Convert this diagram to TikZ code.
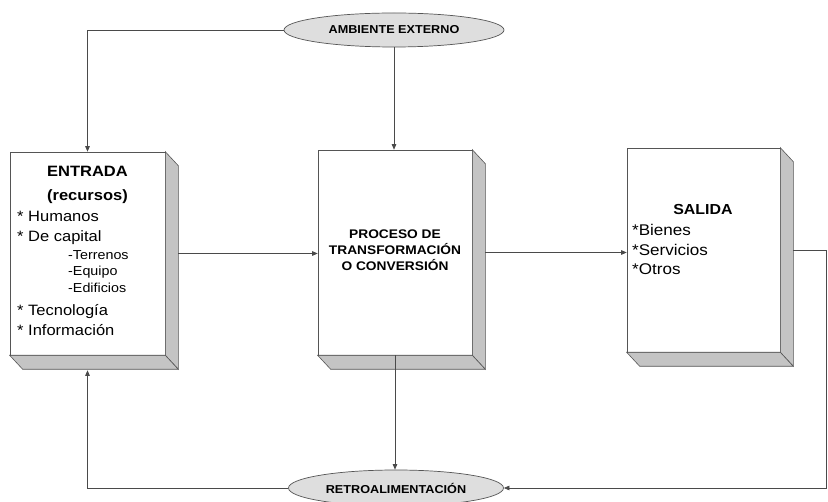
\documentclass[tikz,border=0pt]{standalone}
\usepackage{fontspec}
\setmainfont{Liberation Sans}[FakeStretch=1.1]
\usetikzlibrary{shapes.geometric,arrows.meta,calc}
\definecolor{linec}{HTML}{4A4A4A}
\definecolor{edgec}{HTML}{555555}
\definecolor{bevelc}{HTML}{C4C4C4}
\definecolor{ovalc}{HTML}{DEDEDE}
\newcommand\drawbevel[1]{%
  \filldraw[bevel] (#1.north east) -- ([shift={(13,14)}]#1.north east) -- ([shift={(13,14)}]#1.south east) -- (#1.south east) -- cycle;
  \filldraw[bevel] (#1.south west) -- ([shift={(13,14)}]#1.south west) -- ([shift={(13,14)}]#1.south east) -- (#1.south east) -- cycle;}
\begin{document}
\begin{tikzpicture}[x=1pt,y=-1pt,
  line/.style={draw=linec, line width=0.7pt},
  arr/.style={line, -{Triangle[length=5.5pt,width=4.5pt]}},
  front/.style={draw=edgec, fill=white, line width=0.6pt, inner sep=0},
  bevel/.style={fill=bevelc, draw=edgec, line width=0.6pt},
  oval/.style={ellipse, draw=edgec, fill=ovalc, line width=0.7pt, inner sep=0, font=\bfseries\fontsize{11.5}{13}\selectfont},
  txt/.style={inner sep=0, anchor=base west},
  ctxt/.style={inner sep=0, anchor=base},
  item/.style={txt, font=\fontsize{15}{18}\selectfont},
  sub/.style={txt, font=\fontsize{13}{15}\selectfont},
  title/.style={ctxt, font=\bfseries\fontsize{15}{18}\selectfont},
  ptitle/.style={ctxt, font=\bfseries\fontsize{12.5}{15}\selectfont}]
\fill[white] (0,0) rectangle (828,502);
\useasboundingbox (0,0) rectangle (828,502);

% boxes
\node[front, minimum width=155pt, minimum height=203pt] (in) at (87.5,253.5) {};
\drawbevel{in}
\node[front, minimum width=154pt, minimum height=205pt] (pr) at (395,252.5) {};
\drawbevel{pr}
\node[front, minimum width=153pt, minimum height=204pt] (sa) at (703.5,250) {};
\drawbevel{sa}

% ovals
\node[oval, minimum width=220pt, minimum height=34pt] (amb) at (394,30) {AMBIENTE EXTERNO};
\node[oval, minimum width=215pt, minimum height=36pt] (retro) at (396,488) {RETROALIMENTACIÓN};

% ENTRADA text
\node[title] (t1) at (87.5,177) {ENTRADA};
\node[title] (t2) at (87.5,201) {(recursos)};
\node[item] (i1) at (17,222) {* Humanos};
\node[item] (i2) at (17,242) {* De capital};
\node[sub] (s1) at (68,260) {-Terrenos};
\node[sub] (s2) at (68,276) {-Equipo};
\node[sub] (s3) at (68,293) {-Edificios};
\node[item] (i3) at (17,316) {* Tecnología};
\node[item] (i4) at (17,336) {* Información};

% PROCESO text
\node[ptitle] (p1) at (395,239) {PROCESO DE};
\node[ptitle] (p2) at (395,255) {TRANSFORMACIÓN};
\node[ptitle] (p3) at (395,271) {O CONVERSIÓN};

% SALIDA text
\node[ctxt, font=\bfseries\fontsize{14.5}{17}\selectfont] (st) at (703,215) {SALIDA};
\node[txt, font=\fontsize{15.5}{18}\selectfont] (o1) at (632,236) {*Bienes};
\node[txt, font=\fontsize{15.5}{18}\selectfont] (o2) at (632,256) {*Servicios};
\node[txt, font=\fontsize{15.5}{18}\selectfont] (o3) at (632,275) {*Otros};

% connectors
\coordinate (rt) at (826,250);
\coordinate (rb) at (826,488);
\draw[arr] (amb.west) -| (in.north);
\draw[arr] (amb.south) -- (amb.south |- pr.north);
\draw[arr] ([xshift=13pt]in.east) -- (in.east -| pr.west);
\draw[arr] ([xshift=13pt]pr.east) -- (pr.east -| sa.west);
\draw[arr] ([xshift=13pt]sa.east) -- (sa.east -| rt) -- (rb) -- (retro.east);
\draw[arr] (pr.south) -- (pr.south |- retro.north);
\draw[arr] (retro.west) -| ([yshift=-15pt]in.south);
\end{tikzpicture}
\end{document}
